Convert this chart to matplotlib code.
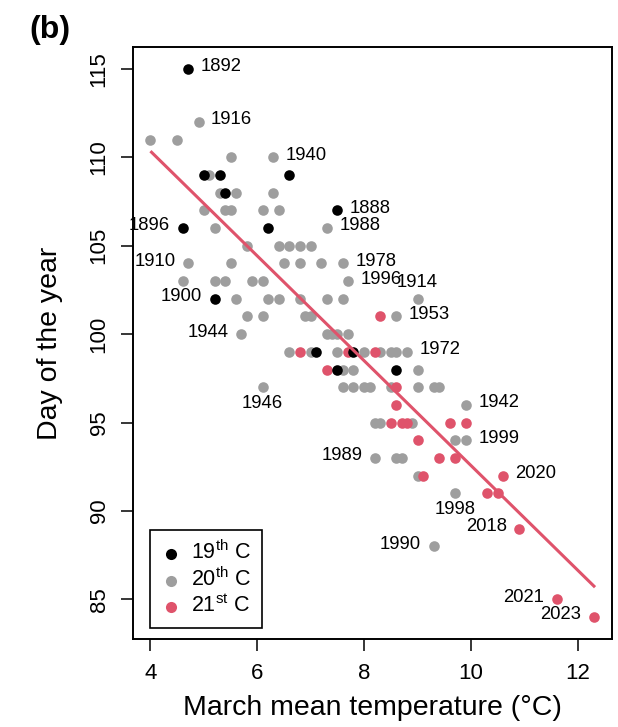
import matplotlib
matplotlib.use("Agg")
import matplotlib.pyplot as plt

plt.rcParams["font.family"] = ["Liberation Sans", "DejaVu Sans"]
plt.rcParams["mathtext.fontset"] = "custom"
plt.rcParams["mathtext.rm"] = "Liberation Sans"
plt.rcParams["mathtext.it"] = "Liberation Sans:italic"

# 19th century (black)
temp_19 = [4.7, 5.0, 5.3, 6.6, 5.4, 7.5, 4.6, 6.2, 5.2, 7.1, 7.8, 7.5, 8.6]
day_19 = [115, 109, 109, 109, 108, 107, 106, 106, 102, 99, 99, 98, 98]

# 20th century (grey), written row by row (same day of year)
temp_20 = [4.9,
           4.0, 4.5,
           5.5, 6.3,
           5.1,
           5.3, 5.6, 6.3,
           5.0, 5.4, 5.5, 6.1, 6.4,
           5.2, 7.3,
           5.8, 6.4, 6.6, 6.8, 7.0,
           4.7, 5.5, 6.5, 6.8, 7.2, 7.6,
           4.6, 5.2, 5.4, 5.9, 6.1, 7.7,
           5.6, 6.2, 6.4, 6.8, 7.3, 7.6, 9.0,
           5.8, 6.1, 6.9, 7.0, 8.6,
           5.7, 7.3, 7.4, 7.5, 7.7,
           6.6, 7.0, 7.5, 8.0, 8.3, 8.5, 8.6, 8.8,
           7.6, 7.8, 9.0,
           6.1, 7.6, 7.8, 8.0, 8.1, 8.5, 9.0, 9.3, 9.4,
           9.9,
           8.2, 8.3, 8.9,
           9.7, 9.9,
           8.2, 8.6, 8.7,
           9.0,
           9.7,
           9.3]
day_20 = [112,
          111, 111,
          110, 110,
          109,
          108, 108, 108,
          107, 107, 107, 107, 107,
          106, 106,
          105, 105, 105, 105, 105,
          104, 104, 104, 104, 104, 104,
          103, 103, 103, 103, 103, 103,
          102, 102, 102, 102, 102, 102, 102,
          101, 101, 101, 101, 101,
          100, 100, 100, 100, 100,
          99, 99, 99, 99, 99, 99, 99, 99,
          98, 98, 98,
          97, 97, 97, 97, 97, 97, 97, 97, 97,
          96,
          95, 95, 95,
          94, 94,
          93, 93, 93,
          92,
          91,
          88]

# 21st century (red)
temp_21 = [6.8, 7.7, 8.2, 7.3, 8.3, 8.6, 8.6, 8.5, 8.7, 8.8, 9.6, 9.9,
           9.0, 9.4, 9.7, 9.1, 10.6, 10.3, 10.5, 10.9, 11.6, 12.3]
day_21 = [99, 99, 99, 98, 101, 97, 96, 95, 95, 95, 95, 95,
          94, 93, 93, 92, 92, 91, 91, 89, 85, 84]

# regression line as drawn
fit_temp = [4.0, 12.32]
fit_day = [110.35, 85.69]

# labelled years and where the label sits (R style pos: 1 below, 2 left, 3 above, 4 right)
label_year = ["1892", "1916", "1940", "1888", "1988", "1896", "1910", "1978",
              "1996", "1914", "1900", "1953", "1944", "1972", "1946", "1942",
              "1999", "1989", "2020", "1998", "2018", "1990", "2021", "2023"]
label_temp = [4.7, 4.9, 6.3, 7.5, 7.3, 4.6, 4.7, 7.6,
              7.7, 9.0, 5.2, 8.6, 5.7, 8.8, 6.1, 9.9,
              9.9, 8.2, 10.6, 9.7, 10.9, 9.3, 11.6, 12.3]
label_day = [115, 112, 110, 107, 106, 106, 104, 104,
             103, 102, 102, 101, 100, 99, 97, 96,
             94, 93, 92, 91, 89, 88, 85, 84]
label_pos = [4, 4, 4, 4, 4, 2, 2, 4,
             4, 3, 2, 4, 2, 4, 1, 4,
             4, 2, 4, 1, 2, 2, 2, 2]

black = "#000000"
grey = "#9E9E9E"
red = "#DF536B"

fig = plt.figure(figsize=(6.18, 7.27), dpi=100)
ax = fig.add_axes([132.7 / 618, 88 / 727, 479 / 618, 592 / 727])

ms = 58
ax.scatter(temp_20, day_20, s=ms, color=grey, linewidths=0, zorder=2)
ax.scatter(temp_21, day_21, s=ms, color=red, linewidths=0, zorder=3)
ax.scatter(temp_19, day_19, s=ms, color=black, linewidths=0, zorder=4)
ax.plot(fit_temp, fit_day, color=red, linewidth=2.2, zorder=5,
        solid_capstyle="butt")

offsets = {1: (0, -12, "center"), 2: (-9, 1.5, "right"),
           3: (0, 12, "center"), 4: (9, 1.5, "left")}
for yr, t, d, p in zip(label_year, label_temp, label_day, label_pos):
    dx, dy, ha = offsets[p]
    ax.annotate(yr, (t, d), xytext=(dx, dy), textcoords="offset points",
                ha=ha, va="center", fontsize=13.3, zorder=6)

ax.set_xlim(3.668, 12.632)
ax.set_ylim(82.76, 116.24)
ax.set_xticks([4, 6, 8, 10, 12])
ax.set_yticks([85, 90, 95, 100, 105, 110, 115])
ax.tick_params(axis="both", direction="out", length=8.6, width=1.1,
               labelsize=16, color="black")
ax.tick_params(axis="x", pad=9)
ax.tick_params(axis="y", pad=8, labelrotation=90)
for lab in ax.get_yticklabels():
    lab.set_va("center")
for sp in ax.spines.values():
    sp.set_linewidth(1.4)

ax.set_xlabel("March mean temperature (°C)", fontsize=20.5)
ax.xaxis.set_label_coords(0.5, -0.1166)
ax.xaxis.label.set_va("center")
ax.set_ylabel("Day of the year", fontsize=20.5)
ax.yaxis.set_label_coords(-0.1727, 0.5)
ax.yaxis.label.set_va("center")

h19 = ax.scatter([], [], s=64, color=black, linewidths=0)
h20 = ax.scatter([], [], s=64, color=grey, linewidths=0)
h21 = ax.scatter([], [], s=64, color=red, linewidths=0)
leg = ax.legend([h19, h20, h21],
                [r"19$^{\mathrm{th}}$ C", r"20$^{\mathrm{th}}$ C", r"21$^{\mathrm{st}}$ C"],
                loc="lower left", bbox_to_anchor=(0.036, 0.0185),
                borderaxespad=0, fontsize=15.5, scatterpoints=1,
                handlelength=1.0, handletextpad=0.4, borderpad=0.5,
                labelspacing=0.15, fancybox=False, framealpha=1,
                edgecolor="black")
leg.get_frame().set_linewidth(1.2)

fig.text(49.5 / 618, 1 - 30 / 727, "(b)", fontsize=23, fontweight="bold",
         ha="center", va="center")

fig.savefig("out.png", dpi=100)
